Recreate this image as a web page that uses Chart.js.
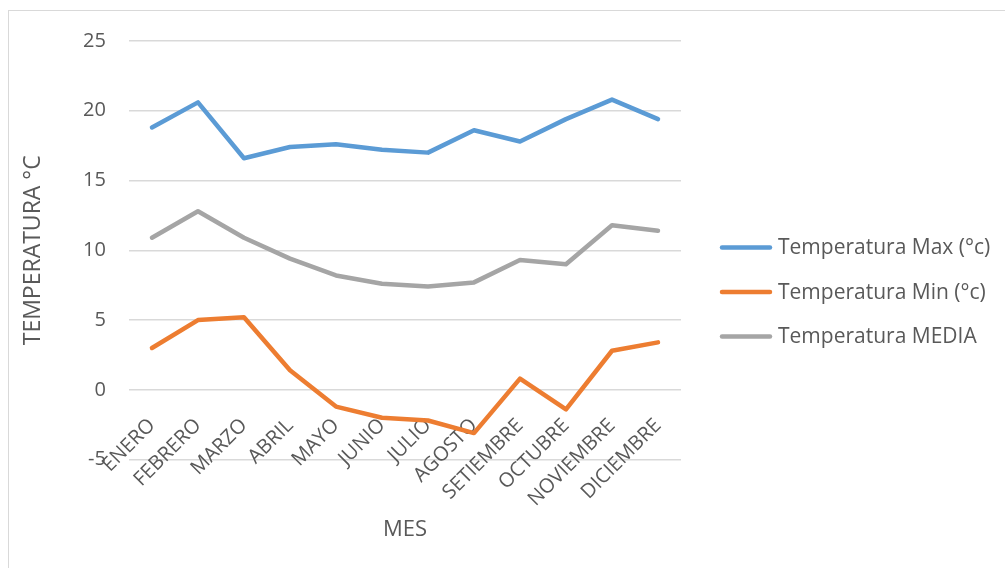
<!DOCTYPE html>
<html>
<head>
<meta charset="utf-8">
<script src="https://cdn.jsdelivr.net/npm/chart.js@4.4.0/dist/chart.umd.min.js"></script>
<style>
    body { margin: 0; background: #ffffff; overflow: hidden; }
    .frame { position: absolute; left: 8px; top: 10px; width: 1200px; height: 800px; border: 1px solid #d9d9d9; }
    #chartTemp { position: absolute; left: 0; top: 0; }
</style>
</head>
<body>
<div class="frame"></div>
<canvas id="chartTemp" width="1005" height="568"></canvas>
<script>
// meses y temperaturas
const meses = ['ENERO', 'FEBRERO', 'MARZO', 'ABRIL', 'MAYO', 'JUNIO', 'JULIO', 'AGOSTO', 'SETIEMBRE', 'OCTUBRE', 'NOVIEMBRE', 'DICIEMBRE'];
const tempMax = [18.8, 20.6, 16.6, 17.4, 17.6, 17.2, 17.0, 18.6, 17.8, 19.4, 20.8, 19.4];
const tempMin = [3.0, 5.0, 5.2, 1.4, -1.2, -2.0, -2.2, -3.1, 0.8, -1.4, 2.8, 3.4];
const tempMedia = [10.9, 12.8, 10.9, 9.4, 8.2, 7.6, 7.4, 7.7, 9.3, 9.0, 11.8, 11.4];
const yTicks = [-5, 0, 5, 10, 15, 20, 25];

const textColor = '#595959';
const gridColor = '#d9d9d9';
const fontName = "'Open Sans', sans-serif";

function serie(label, data, color) {
    return {
        label: label,
        data: data,
        borderColor: color,
        backgroundColor: color,
        borderWidth: 4.5,
        borderCapStyle: 'round',
        borderJoinStyle: 'round',
        pointRadius: 0,
        tension: 0,
        fill: false
    };
}

// leyenda a la derecha (la de Chart.js no cabe con ese ancho)
const leyendaDerecha = {
    id: 'leyendaDerecha',
    afterDraw(chart, args, opts) {
        const ctx = chart.ctx;
        const x0 = chart.chartArea.right + opts.gap;
        ctx.save();
        ctx.font = opts.fontSize + 'px ' + fontName;
        ctx.textBaseline = 'middle';
        ctx.textAlign = 'left';
        chart.data.datasets.forEach((ds, i) => {
            const y = opts.top + i * opts.spacing;
            ctx.strokeStyle = ds.borderColor;
            ctx.lineWidth = ds.borderWidth;
            ctx.lineCap = 'round';
            ctx.beginPath();
            ctx.moveTo(x0, y);
            ctx.lineTo(x0 + opts.lineLength, y);
            ctx.stroke();
            ctx.fillStyle = textColor;
            ctx.fillText(ds.label, x0 + opts.lineLength + opts.textGap, y + 1);
        });
        ctx.restore();
    }
};

const dataLine = {
    labels: meses,
    datasets: [
        serie('Temperatura Max (°c)', tempMax, '#5b9bd5'),
        serie('Temperatura Min (°c)', tempMin, '#ed7d31'),
        serie('Temperatura MEDIA', tempMedia, '#a5a5a5')
    ]
};

const configLine = {
    type: 'line',
    data: dataLine,
    plugins: [leyendaDerecha],
    options: {
        responsive: false,
        animation: false,
        layout: {
            padding: { left: 10, top: 41, right: 324, bottom: 25 }
        },
        scales: {
            x: {
                position: { y: 0 },
                offset: true,
                grid: { display: false, drawTicks: false },
                border: { display: false },
                ticks: {
                    autoSkip: false,
                    minRotation: 45,
                    maxRotation: 45,
                    padding: 24,
                    color: textColor,
                    font: { family: fontName, size: 20 }
                }
            },
            y: {
                min: yTicks[0],
                max: yTicks[yTicks.length - 1],
                afterBuildTicks: function (scale) {
                    scale.ticks = yTicks.map(v => ({ value: v }));
                },
                grid: { color: gridColor, lineWidth: 1.5, drawTicks: false },
                border: { display: false },
                ticks: {
                    padding: 23,
                    color: textColor,
                    font: { family: fontName, size: 20 }
                },
                title: {
                    display: true,
                    text: 'TEMPERATURA °C',
                    color: textColor,
                    font: { family: fontName, size: 23 },
                    padding: { top: 10, bottom: 12.5 }
                }
            }
        },
        plugins: {
            legend: { display: false },
            leyendaDerecha: {
                gap: 41,
                top: 247.5,
                spacing: 44.5,
                lineLength: 48,
                textGap: 8,
                fontSize: 21
            },
            title: {
                display: true,
                text: 'MES',
                position: 'bottom',
                fullSize: false,
                color: textColor,
                font: { family: fontName, size: 22, weight: 'normal' },
                padding: { top: 57, bottom: 0 }
            },
            tooltip: { enabled: false }
        }
    }
};

const chartTemp = new Chart(
    document.getElementById('chartTemp'),
    configLine
);
</script>
</body>
</html>
